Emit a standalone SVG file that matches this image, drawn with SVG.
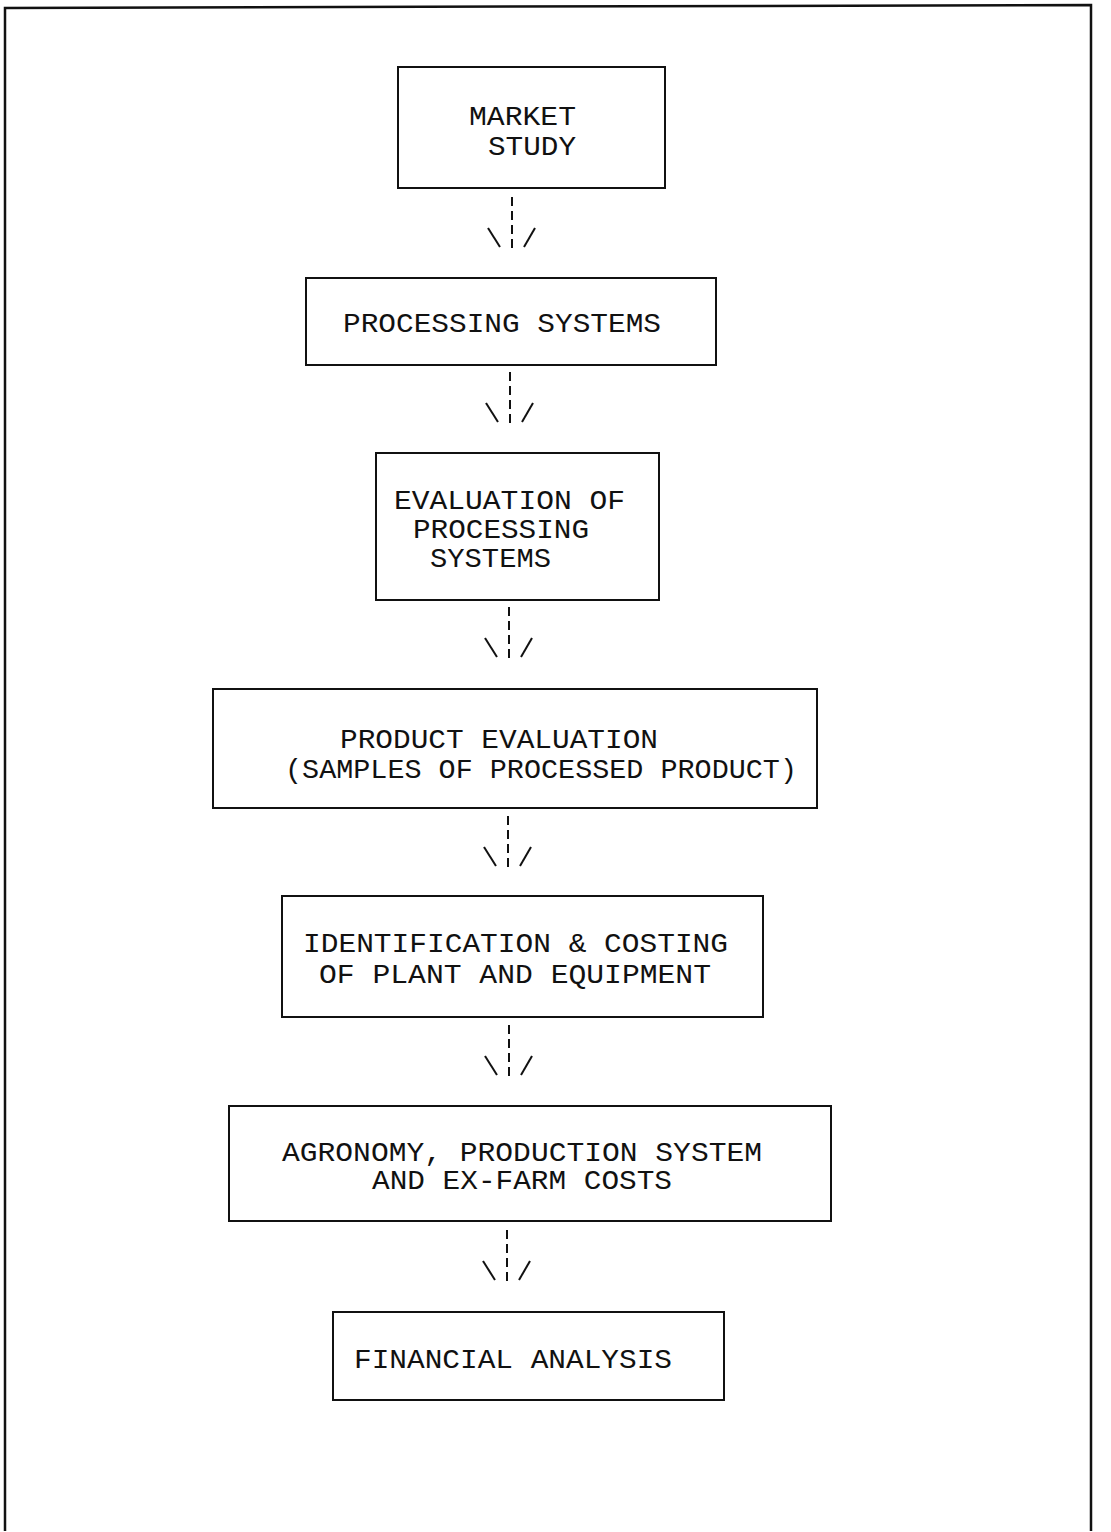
<svg xmlns="http://www.w3.org/2000/svg" width="1111" height="1532" viewBox="0 0 1111 1532">
<style>
.box{fill:none;stroke:#111;stroke-width:2}
.frame{fill:none;stroke:#111;stroke-width:2.5}
.t{font-family:"Liberation Mono","Courier New",monospace;font-size:28px;fill:#111}
.dash{stroke:#111;stroke-width:2;stroke-dasharray:9 5}
.dg{stroke:#111;stroke-width:2}
</style>
<rect width="1111" height="1532" fill="#fff"/>
<g id="frame">
<path class="frame" d="M5,1531 L5,8 L1091,5 L1091,1531"/>
</g>
<g id="n1">
<rect class="box" x="398" y="67" width="267" height="121"/>
<text class="t" x="469" y="125" textLength="107" lengthAdjust="spacingAndGlyphs">MARKET</text>
<text class="t" x="488" y="155" textLength="88" lengthAdjust="spacingAndGlyphs">STUDY</text>
</g>
<g id="n2">
<rect class="box" x="306" y="278" width="410" height="87"/>
<text class="t" x="343" y="332" textLength="318" lengthAdjust="spacingAndGlyphs">PROCESSING SYSTEMS</text>
</g>
<g id="n3">
<rect class="box" x="376" y="453" width="283" height="147"/>
<text class="t" x="394" y="509" textLength="231" lengthAdjust="spacingAndGlyphs">EVALUATION OF</text>
<text class="t" x="413" y="538" textLength="176" lengthAdjust="spacingAndGlyphs">PROCESSING</text>
<text class="t" x="430" y="567" textLength="121" lengthAdjust="spacingAndGlyphs">SYSTEMS</text>
</g>
<g id="n4">
<rect class="box" x="213" y="689" width="604" height="119"/>
<text class="t" x="340" y="748" textLength="318" lengthAdjust="spacingAndGlyphs">PRODUCT EVALUATION</text>
<text class="t" x="285" y="778" textLength="512" lengthAdjust="spacingAndGlyphs">(SAMPLES OF PROCESSED PRODUCT)</text>
</g>
<g id="n5">
<rect class="box" x="282" y="896" width="481" height="121"/>
<text class="t" x="303" y="952" textLength="425" lengthAdjust="spacingAndGlyphs">IDENTIFICATION &amp; COSTING</text>
<text class="t" x="319" y="983" textLength="392" lengthAdjust="spacingAndGlyphs">OF PLANT AND EQUIPMENT</text>
</g>
<g id="n6">
<rect class="box" x="229" y="1106" width="602" height="115"/>
<text class="t" x="282" y="1161" textLength="480" lengthAdjust="spacingAndGlyphs">AGRONOMY, PRODUCTION SYSTEM</text>
<text class="t" x="372" y="1189" textLength="300" lengthAdjust="spacingAndGlyphs">AND EX-FARM COSTS</text>
</g>
<g id="n7">
<rect class="box" x="333" y="1312" width="391" height="88"/>
<text class="t" x="354" y="1368" textLength="318" lengthAdjust="spacingAndGlyphs">FINANCIAL ANALYSIS</text>
</g>
<g id="connectors">
<g transform="translate(512,197)">
<line class="dash" x1="0" y1="0" x2="0" y2="51"/>
<line class="dg" x1="-24" y1="31" x2="-12" y2="50"/>
<line class="dg" x1="23" y1="31" x2="12" y2="50"/>
</g>
<g transform="translate(510,372)">
<line class="dash" x1="0" y1="0" x2="0" y2="51"/>
<line class="dg" x1="-24" y1="31" x2="-12" y2="50"/>
<line class="dg" x1="23" y1="31" x2="12" y2="50"/>
</g>
<g transform="translate(509,607)">
<line class="dash" x1="0" y1="0" x2="0" y2="51"/>
<line class="dg" x1="-24" y1="31" x2="-12" y2="50"/>
<line class="dg" x1="23" y1="31" x2="12" y2="50"/>
</g>
<g transform="translate(508,816)">
<line class="dash" x1="0" y1="0" x2="0" y2="51"/>
<line class="dg" x1="-24" y1="31" x2="-12" y2="50"/>
<line class="dg" x1="23" y1="31" x2="12" y2="50"/>
</g>
<g transform="translate(509,1025)">
<line class="dash" x1="0" y1="0" x2="0" y2="51"/>
<line class="dg" x1="-24" y1="31" x2="-12" y2="50"/>
<line class="dg" x1="23" y1="31" x2="12" y2="50"/>
</g>
<g transform="translate(507,1230)">
<line class="dash" x1="0" y1="0" x2="0" y2="51"/>
<line class="dg" x1="-24" y1="31" x2="-12" y2="50"/>
<line class="dg" x1="23" y1="31" x2="12" y2="50"/>
</g>
</g>
</svg>
